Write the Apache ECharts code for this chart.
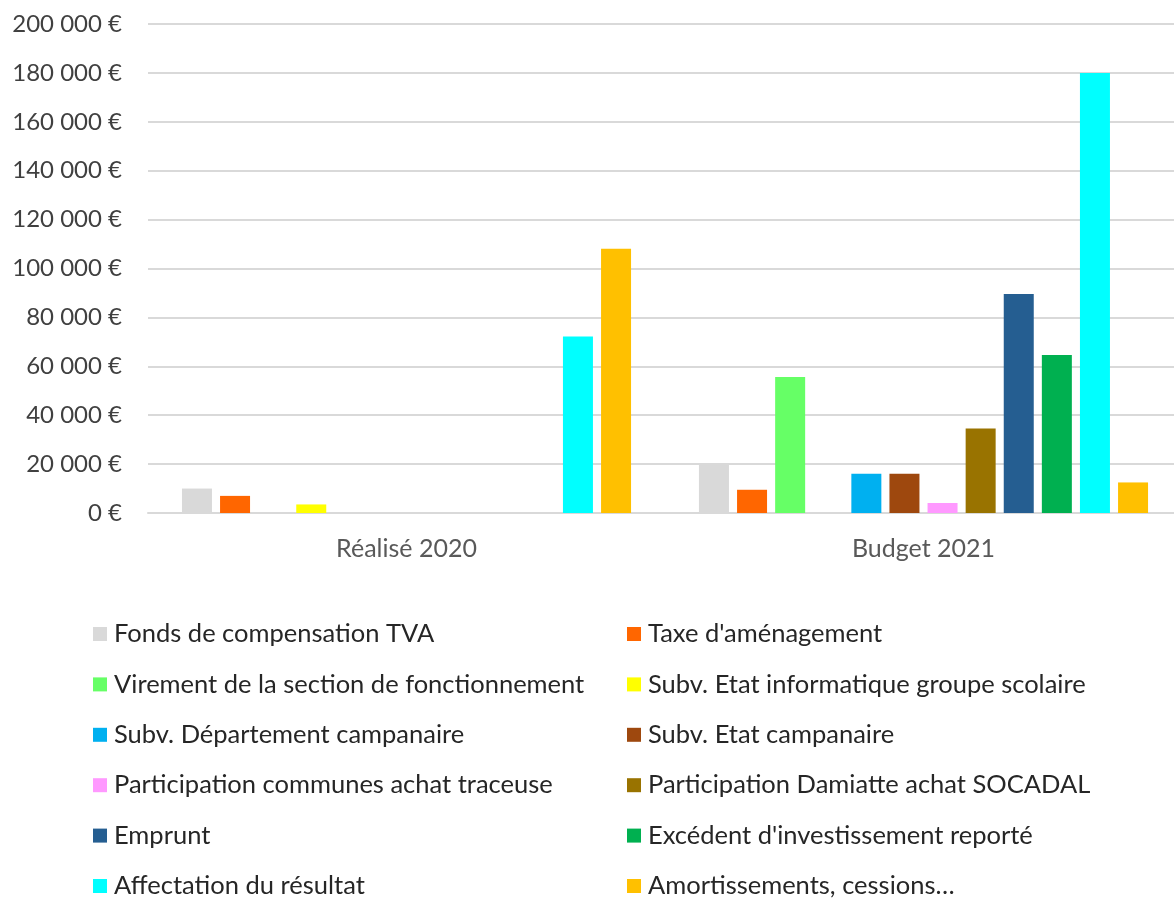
<!DOCTYPE html>
<html>
<head>
<meta charset="utf-8">
<script src="https://cdn.jsdelivr.net/npm/echarts@6/dist/echarts.min.js"></script>
<style>
  html, body { margin: 0; padding: 0; background: #fff; }
  #chart { width: 1174px; height: 899px; }
</style>
</head>
<body>
<div id="chart"></div>
<script>
// ---- Data ----
const categories = ['Réalisé 2020', 'Budget 2021'];
const seriesNames = [
  'Fonds de compensation TVA',
  "Taxe d'aménagement",
  'Virement de la section de fonctionnement',
  'Subv. Etat informatique groupe scolaire',
  'Subv. Département campanaire',
  'Subv. Etat campanaire',
  'Participation communes achat traceuse',
  'Participation Damiatte achat SOCADAL',
  'Emprunt',
  "Excédent d'investissement reporté",
  'Affectation du résultat',
  'Amortissements, cessions…'
];
const realise2020 = [10000, 7000, 0, 3500, 0, 0, 0, 0, 0, 0, 72200, 108100];
const budget2021  = [19800, 9500, 55600, 0, 16100, 16100, 4100, 34600, 89600, 64600, 180000, 12500];
const yTicks = { min: 0, max: 200000, interval: 20000 };

// ---- Styles ----
const palette = ['#D9D9D9', '#FF6600', '#66FF66', '#FFFF00', '#00B0F0', '#9E480E',
                 '#FF99FF', '#997300', '#255E91', '#00B050', '#00FFFF', '#FFC000'];
const FONT = 'Lato, "Open Sans", sans-serif';

function fmt(v) {
  return String(v).replace(/\B(?=(\d{3})+(?!\d))/g, ' ') + ' €';
}

const series = seriesNames.map((name, i) => ({
  name: name,
  type: 'bar',
  data: [realise2020[i], budget2021[i]],
  barWidth: 30,
  barGap: '27%',
  itemStyle: { color: palette[i] },
  emphasis: { disabled: true }
}));

const leftNames = seriesNames.filter((_, i) => i % 2 === 0);
const rightNames = seriesNames.filter((_, i) => i % 2 === 1);
const legendCommon = {
  orient: 'vertical',
  top: 621,
  height: 320,
  itemWidth: 14,
  itemHeight: 14,
  itemGap: 24.4,
  icon: 'rect',
  textStyle: { fontFamily: FONT, fontSize: 25.5, color: '#262626', lineHeight: 26, padding: [0, 0, 0, 2] },
  padding: 0
};

const option = {
  animation: false,
  backgroundColor: '#fff',
  grid: { left: 148, top: 24, width: 1034, height: 489, outerBoundsMode: 'none', containLabel: false },
  legend: [
    Object.assign({}, legendCommon, { left: 93, data: leftNames }),
    Object.assign({}, legendCommon, { left: 627, data: rightNames })
  ],
  xAxis: {
    type: 'category',
    data: categories,
    axisLine: { show: true, lineStyle: { color: '#D9D9D9', width: 2 } },
    axisTick: { show: false },
    axisLabel: { fontFamily: FONT, fontSize: 25, color: '#595959', margin: 23 }
  },
  yAxis: {
    type: 'value',
    min: yTicks.min,
    max: yTicks.max,
    interval: yTicks.interval,
    axisLine: { show: false },
    axisTick: { show: false },
    splitLine: { lineStyle: { color: '#D9D9D9', width: 2 } },
    axisLabel: { fontFamily: FONT, fontSize: 24, color: '#404040', margin: 26, formatter: fmt }
  },
  series: series
};

const chart = echarts.init(document.getElementById('chart'), null, { renderer: 'canvas' });
chart.setOption(option);
</script>
</body>
</html>
